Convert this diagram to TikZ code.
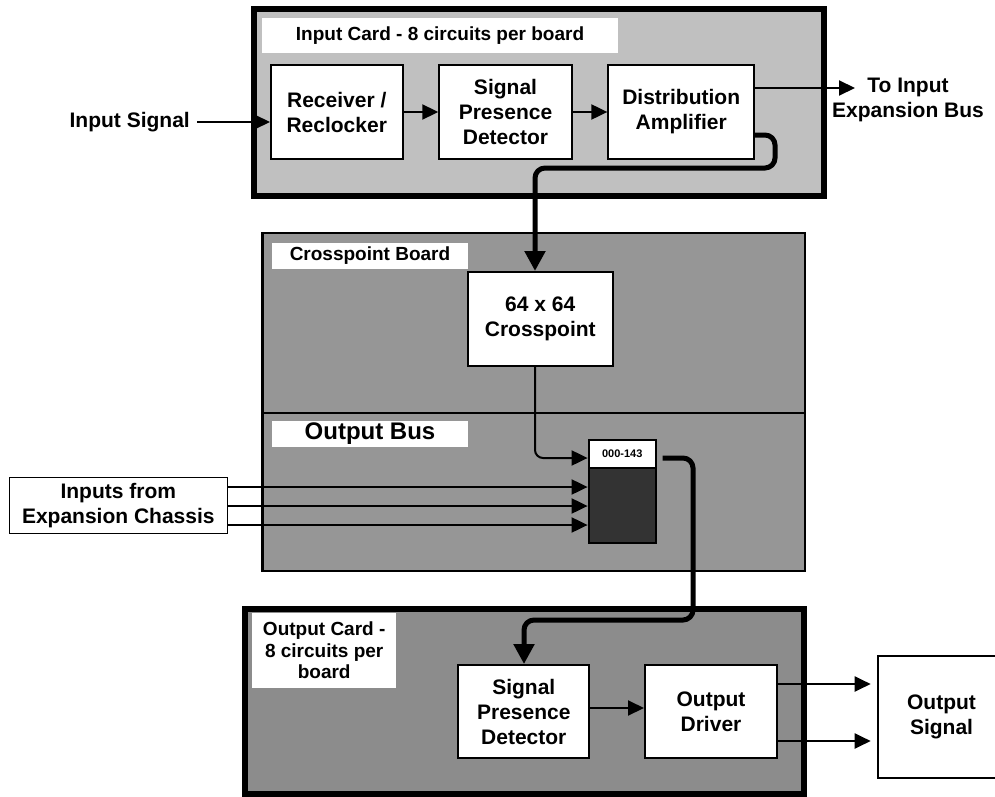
\documentclass[tikz,border=0pt]{standalone}
\usepackage{fontspec}
\setmainfont{Liberation Sans}
\usetikzlibrary{arrows.meta}
\definecolor{cardlight}{HTML}{C0C0C0}
\definecolor{boardgray}{HTML}{969696}
\definecolor{outgray}{HTML}{8C8C8C}
\definecolor{darkbox}{HTML}{333333}
\tikzset{
  blk/.style={draw=black, fill=white, line width=2bp, inner sep=0pt, align=center,
    font=\fontsize{21bp}{25bp}\selectfont\bfseries},
  lbl/.style={fill=white, inner sep=0pt, align=center,
    font=\fontsize{19bp}{21.7bp}\selectfont\bfseries},
  txt/.style={inner sep=0pt, align=center, font=\fontsize{21bp}{25bp}\selectfont\bfseries},
  arr/.style={line width=2bp, -{Triangle[length=16bp,width=15bp]}},
  cable/.style={line width=5bp, rounded corners=10bp, -{Triangle[length=20bp,width=20bp]}},
}
\begin{document}
\begin{tikzpicture}[x=1bp,y=-1bp]
\useasboundingbox (0,0) rectangle (995,797);

% ---------------- Input card ----------------
\draw[line width=6bp, fill=cardlight] (253.7,9.5) rectangle (824,196);
\node[lbl, minimum width=356bp, minimum height=35bp] (inlbl) at (440,35.5) {Input Card - 8 circuits per board};
\node[blk, minimum width=131.5bp, minimum height=94bp] (rec) at (336.75,112) {Receiver /\\Reclocker};
\node[blk, minimum width=132.4bp, minimum height=94bp] (spd) at (505.5,112) {Signal\\Presence\\Detector};
\node[blk, minimum width=145.7bp, minimum height=94bp] (da) at (681.2,112) {Distribution\\Amplifier};

\node[txt, anchor=east] (insig) at (190,122) {Input Signal};
\draw[arr] (197,122) -- (rec.west |- 197,122);
\draw[arr] (rec.east) -- (spd.west);
\draw[arr] (spd.east) -- (da.west);

\node[txt] (toexp) at (908,99.5) {To Input\\Expansion Bus};
\coordinate (toend) at (855,88);
\draw[arr] (da.east |- toend) -- (toend);

% ---------------- Crosspoint board / Output bus ----------------
\draw[line width=2.5bp, fill=boardgray] (262.5,233) rectangle (805,571);
\draw[line width=2.5bp] (262.5,413) -- (805,413);
\node[lbl, minimum width=196bp, minimum height=26bp] (cplbl) at (370,256) {Crosspoint Board};
\node[blk, minimum width=144.5bp, minimum height=94bp] (cp) at (540.25,319) {64 x 64\\Crosspoint};
\node[lbl, minimum width=196bp, minimum height=26bp, font=\fontsize{24bp}{28bp}\selectfont\bfseries] (oblbl) at (370,434) {Output Bus};

\node[draw=black, line width=2bp, fill=darkbox, minimum width=67.4bp, minimum height=75bp, inner sep=0pt] (sbd) at (622.3,505.5) {};
\node[draw=black, line width=2bp, fill=white, minimum width=67.4bp, minimum height=28bp, inner sep=0pt,
  font=\fontsize{11bp}{13bp}\selectfont\bfseries] (sb) at (622.3,454) {000-143};

\node[draw=black, line width=1bp, fill=white, minimum width=218bp, minimum height=56.7bp, inner sep=0pt,
  align=center, font=\fontsize{21bp}{25bp}\selectfont\bfseries] (inexp) at (118.3,505.6) {Inputs from\\Expansion Chassis};

% ---------------- Output card ----------------
\draw[line width=6bp, fill=outgray] (245,609) rectangle (804,794);
\node[lbl, minimum width=144.5bp, minimum height=75bp] (oclbl) at (324.2,650.5) {Output Card -\\8 circuits per\\board};
\node[blk, minimum width=131bp, minimum height=93.3bp] (spd2) at (523.8,711.7) {Signal\\Presence\\Detector};
\node[blk, minimum width=132bp, minimum height=93.3bp] (od) at (711,711.7) {Output\\Driver};
\node[blk, minimum width=127bp, minimum height=122bp] (os) at (941.5,717) {Output\\Signal};

\draw[arr] (spd2.east |- 0,708) -- (od.west |- 0,708);
\coordinate (oa1) at (870.7,684);
\coordinate (oa2) at (870.7,741);
\draw[arr] (od.east |- oa1) -- (oa1);
\draw[arr] (od.east |- oa2) -- (oa2);

% ---------------- connectors ----------------
\draw[cable] (da.east |- 0,135) -- (775,135) -- (775,168) -- (535,168) -- (cp.north -| 535,0);
\draw[line width=2bp, rounded corners=8bp, -{Triangle[length=16bp,width=15bp]}]
  (cp.south -| 535,0) -- (535,458) -- (sb.west |- 0,458);
\draw[arr] (inexp.east |- 0,487) -- (sbd.west |- 0,487);
\draw[arr] (inexp.east |- 0,506) -- (sbd.west |- 0,506);
\draw[arr] (inexp.east |- 0,525) -- (sbd.west |- 0,525);
\draw[cable] (662.5,458) -- (693,458) -- (693,620) -- (524,620) -- (spd2.north -| 524,0);
\end{tikzpicture}
\end{document}
